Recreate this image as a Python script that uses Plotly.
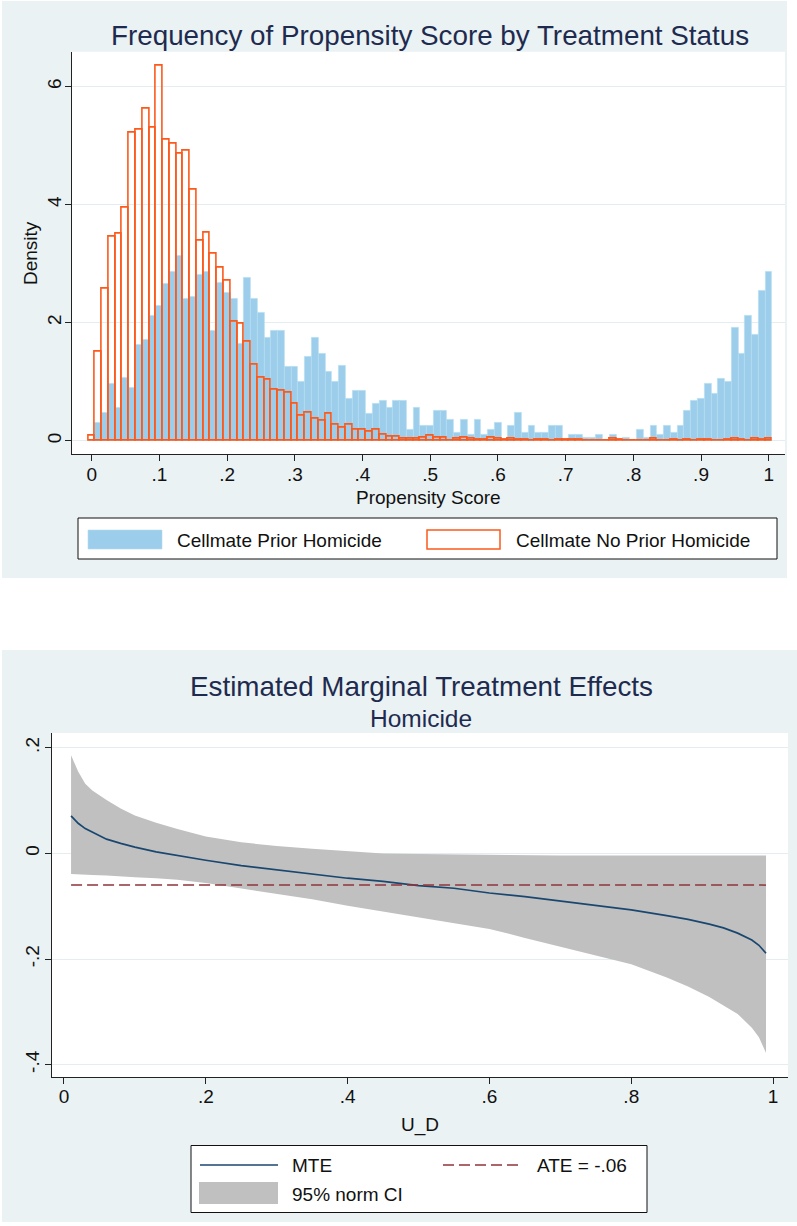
import plotly.graph_objects as go

W, H = 797, 1226

# ---------------- Propensity score histogram (density, bin width 0.01) ----------------
bin_centers = [round(0.01 * k, 2) for k in range(101)]

prior_homicide = [
    0.00, 0.31, 0.48, 0.97, 0.56, 1.06, 0.89, 1.63, 1.71, 2.12,
    2.28, 2.66, 2.87, 3.14, 2.41, 2.44, 2.82, 2.86, 1.87, 2.67,
    2.50, 2.40, 1.64, 2.77, 2.40, 2.17, 1.75, 1.86, 1.86, 1.26,
    1.26, 1.00, 1.42, 1.75, 1.47, 1.17, 1.00, 1.27, 0.72, 0.84,
    0.84, 0.46, 0.63, 0.68, 0.56, 0.68, 0.68, 0.19, 0.56, 0.25,
    0.25, 0.51, 0.51, 0.36, 0.14, 0.35, 0.10, 0.35, 0.10, 0.19,
    0.31, 0.00, 0.25, 0.47, 0.14, 0.25, 0.14, 0.14, 0.25, 0.25,
    0.00, 0.10, 0.10, 0.05, 0.05, 0.10, 0.00, 0.10, 0.00, 0.05,
    0.00, 0.19, 0.05, 0.25, 0.10, 0.25, 0.14, 0.25, 0.51, 0.68,
    0.72, 0.96, 0.80, 1.05, 1.00, 1.91, 1.47, 2.12, 1.79, 2.54,
    2.86,
]

no_prior_homicide = [
    0.08, 1.50, 2.57, 3.45, 3.50, 3.94, 5.22, 5.27, 5.63, 5.31,
    6.36, 5.10, 5.03, 4.86, 4.92, 4.26, 3.38, 3.52, 3.17, 2.93,
    2.71, 2.01, 1.98, 1.68, 1.29, 1.06, 1.03, 0.86, 0.85, 0.82,
    0.62, 0.43, 0.47, 0.38, 0.34, 0.45, 0.27, 0.22, 0.27, 0.18,
    0.18, 0.15, 0.18, 0.10, 0.07, 0.07, 0.03, 0.03, 0.03, 0.05,
    0.08, 0.05, 0.05, 0.00, 0.03, 0.05, 0.03, 0.01, 0.01, 0.05,
    0.03, 0.01, 0.03, 0.01, 0.01, 0.00, 0.01, 0.01, 0.00, 0.01,
    0.01, 0.01, 0.01, 0.00, 0.00, 0.00, 0.00, 0.03, 0.01, 0.00,
    0.00, 0.00, 0.00, 0.03, 0.00, 0.00, 0.01, 0.00, 0.01, 0.00,
    0.01, 0.01, 0.00, 0.00, 0.01, 0.03, 0.01, 0.00, 0.03, 0.01,
    0.03,
]

hist_xticks = [0, 0.1, 0.2, 0.3, 0.4, 0.5, 0.6, 0.7, 0.8, 0.9, 1]
hist_xlabels = ["0", ".1", ".2", ".3", ".4", ".5", ".6", ".7", ".8", ".9", "1"]
hist_yticks = [0, 2, 4, 6]
hist_ylabels = ["0", "2", "4", "6"]

# ---------------- Marginal treatment effects ----------------
u_d = [0.01, 0.02, 0.03, 0.04, 0.06, 0.08, 0.10, 0.13, 0.16, 0.20,
       0.25, 0.30, 0.35, 0.40, 0.45, 0.50, 0.55, 0.60, 0.65, 0.70,
       0.75, 0.80, 0.85, 0.88, 0.91, 0.93, 0.95, 0.97, 0.98, 0.99]
mte = [0.071, 0.057, 0.047, 0.040, 0.027, 0.019, 0.012, 0.003, -0.004, -0.013,
       -0.023, -0.031, -0.040, -0.047, -0.053, -0.061, -0.066, -0.075, -0.082, -0.090,
       -0.099, -0.107, -0.118, -0.125, -0.134, -0.141, -0.151, -0.164, -0.174, -0.189]
ci_upper = [0.186, 0.155, 0.132, 0.119, 0.101, 0.085, 0.072, 0.058, 0.046, 0.032,
            0.021, 0.014, 0.009, 0.004, 0.000, -0.001, -0.002, -0.003, -0.003, -0.004,
            -0.004, -0.004, -0.005, -0.005, -0.005, -0.005, -0.005, -0.005, -0.004, -0.004]
ci_lower = [-0.039, -0.040, -0.040, -0.041, -0.042, -0.043, -0.045, -0.047, -0.050, -0.056,
            -0.066, -0.077, -0.087, -0.099, -0.110, -0.120, -0.131, -0.143, -0.160, -0.177,
            -0.193, -0.210, -0.235, -0.252, -0.272, -0.288, -0.304, -0.330, -0.348, -0.378]
ate = -0.06

mte_xticks = [0, 0.2, 0.4, 0.6, 0.8, 1]
mte_xlabels = ["0", ".2", ".4", ".6", ".8", "1"]
mte_yticks = [0.2, 0, -0.2, -0.4]
mte_ylabels = [".2", "0", "-.2", "-.4"]

# ---------------- Styling ----------------
FONT = "Liberation Sans, Arial, Helvetica, sans-serif"
PANEL_BG = "#eaf2f3"
GRID = "#e4edf0"
TITLE_C = "#1e2b4f"
BLUE = "#9ccdeb"
BLUE_EDGE = "#b6dbf1"
ORANGE = "#fb5a1c"
NAVY = "#1a476f"
MAROON = "#90353b"
CI_GRAY = "#c0c0c0"
TXT = 19


def fx(px):
    return px / W


def fy(py):
    return 1 - py / H


top_x = (71.7, 785.0)
top_y = (51.7, 454.0)
bot_x = (51.7, 788.0)
bot_y = (733.0, 1077.3)

fig = go.Figure()

fig.add_trace(go.Bar(
    x=bin_centers, y=prior_homicide, width=0.01,
    marker=dict(color=BLUE, line=dict(color=BLUE_EDGE, width=0.6)),
    xaxis="x", yaxis="y", name="Cellmate Prior Homicide", hoverinfo="skip",
))
fig.add_trace(go.Bar(
    x=bin_centers, y=no_prior_homicide, width=0.01,
    marker=dict(color="rgba(255,255,255,0)", line=dict(color=ORANGE, width=1.6)),
    xaxis="x", yaxis="y", name="Cellmate No Prior Homicide", hoverinfo="skip",
))

fig.add_trace(go.Scatter(
    x=u_d, y=ci_lower, mode="lines", line=dict(width=0, color=CI_GRAY),
    xaxis="x2", yaxis="y2", hoverinfo="skip", name="ci_lo",
))
fig.add_trace(go.Scatter(
    x=u_d, y=ci_upper, mode="lines", line=dict(width=0, color=CI_GRAY),
    fill="tonexty", fillcolor=CI_GRAY,
    xaxis="x2", yaxis="y2", hoverinfo="skip", name="95% norm CI",
))
fig.add_trace(go.Scatter(
    x=u_d, y=mte, mode="lines", line=dict(width=1.7, color=NAVY),
    xaxis="x2", yaxis="y2", name="MTE",
))
fig.add_trace(go.Scatter(
    x=[u_d[0], u_d[-1]], y=[ate, ate], mode="lines",
    line=dict(width=1.5, color=MAROON, dash="11px,5px"),
    xaxis="x2", yaxis="y2", name="ATE = -.06",
))

axis_common = dict(
    showline=True, linecolor="#222", linewidth=1,
    ticks="outside", ticklen=6, tickwidth=1, tickcolor="#222",
    zeroline=False, tickfont=dict(family=FONT, size=TXT, color="#111"),
    fixedrange=True,
)

shapes = [
    dict(type="rect", xref="paper", yref="paper", x0=fx(2), x1=fx(787), y0=fy(578), y1=fy(1),
         fillcolor=PANEL_BG, line=dict(width=0), layer="below"),
    dict(type="rect", xref="paper", yref="paper", x0=fx(2), x1=fx(797), y0=fy(1222), y1=fy(650),
         fillcolor=PANEL_BG, line=dict(width=0), layer="below"),
    dict(type="rect", xref="paper", yref="paper", x0=fx(top_x[0]), x1=fx(top_x[1]),
         y0=fy(top_y[1]), y1=fy(top_y[0]), fillcolor="white", line=dict(width=0), layer="below"),
    dict(type="rect", xref="paper", yref="paper", x0=fx(bot_x[0]), x1=fx(bot_x[1]),
         y0=fy(bot_y[1]), y1=fy(bot_y[0]), fillcolor="white", line=dict(width=0), layer="below"),
    # legend of the histogram panel
    dict(type="rect", xref="paper", yref="paper", x0=fx(78), x1=fx(777), y0=fy(559), y1=fy(518),
         fillcolor="white", line=dict(color="#111", width=1)),
    dict(type="rect", xref="paper", yref="paper", x0=fx(88), x1=fx(162), y0=fy(549), y1=fy(530),
         fillcolor=BLUE, line=dict(color=BLUE_EDGE, width=0.6)),
    dict(type="rect", xref="paper", yref="paper", x0=fx(427), x1=fx(500), y0=fy(549), y1=fy(530),
         fillcolor="white", line=dict(color=ORANGE, width=1.5)),
    # legend of the MTE panel
    dict(type="rect", xref="paper", yref="paper", x0=fx(191), x1=fx(647), y0=fy(1212.5), y1=fy(1145.5),
         fillcolor="white", line=dict(color="#111", width=1)),
    dict(type="line", xref="paper", yref="paper", x0=fx(200), x1=fx(278), y0=fy(1165), y1=fy(1165),
         line=dict(color=NAVY, width=1.7)),
    dict(type="line", xref="paper", yref="paper", x0=fx(443), x1=fx(522), y0=fy(1165), y1=fy(1165),
         line=dict(color=MAROON, width=1.5, dash="11px,5px")),
    dict(type="rect", xref="paper", yref="paper", x0=fx(199), x1=fx(278), y0=fy(1204), y1=fy(1182),
         fillcolor=CI_GRAY, line=dict(width=0)),
]


def note(text, x, y, size=TXT, color="#111", xanchor="center", angle=0):
    return dict(text=text, x=fx(x), y=fy(y), xref="paper", yref="paper",
                xanchor=xanchor, yanchor="middle", showarrow=False, textangle=angle,
                font=dict(family=FONT, size=size, color=color))


annotations = [
    note("Frequency of Propensity Score by Treatment Status", 430, 36, size=27.8, color=TITLE_C),
    note("Density", 30, 253, angle=-90),
    note("Propensity Score", 429, 497),
    note("Cellmate Prior Homicide", 175, 540, xanchor="left"),
    note("Cellmate No Prior Homicide", 514, 540, xanchor="left"),
    note("Estimated Marginal Treatment Effects", 421.5, 686, size=27.8, color=TITLE_C),
    note("Homicide", 421.5, 718, size=24.5, color=TITLE_C),
    note("U_D", 420, 1125),
    note("MTE", 290, 1165, xanchor="left"),
    note("ATE = -.06", 535, 1165, xanchor="left"),
    note("95% norm CI", 290, 1194, xanchor="left"),
]

fig.update_layout(
    width=W, height=H,
    margin=dict(l=0, r=0, t=0, b=0),
    paper_bgcolor="white", plot_bgcolor="white",
    barmode="overlay", bargap=0,
    showlegend=False,
    font=dict(family=FONT, size=TXT, color="#111"),
    xaxis=dict(domain=[fx(top_x[0]), fx(top_x[1])], range=[-0.0295, 1.024], anchor="y",
               tickvals=hist_xticks, ticktext=hist_xlabels, showgrid=False,
               ticklabelstandoff=-3, **axis_common),
    yaxis=dict(domain=[fy(top_y[1]), fy(top_y[0])], range=[-0.225, 6.59], anchor="x",
               tickvals=hist_yticks, ticktext=hist_ylabels, tickangle=-90,
               showgrid=True, gridcolor=GRID, gridwidth=1,
               ticklabelstandoff=-4, **axis_common),
    xaxis2=dict(domain=[fx(bot_x[0]), fx(bot_x[1])], range=[-0.0173, 1.021], anchor="y2",
                tickvals=mte_xticks, ticktext=mte_xlabels, showgrid=False,
                ticklabelstandoff=-4, **axis_common),
    yaxis2=dict(domain=[fy(bot_y[1]), fy(bot_y[0])], range=[-0.424, 0.228], anchor="x2",
                tickvals=mte_yticks, ticktext=mte_ylabels, tickangle=-90,
                showgrid=True, gridcolor=GRID, gridwidth=1,
                ticklabelstandoff=-2, **axis_common),
    shapes=shapes,
    annotations=annotations,
)

fig.write_html("out.html")
